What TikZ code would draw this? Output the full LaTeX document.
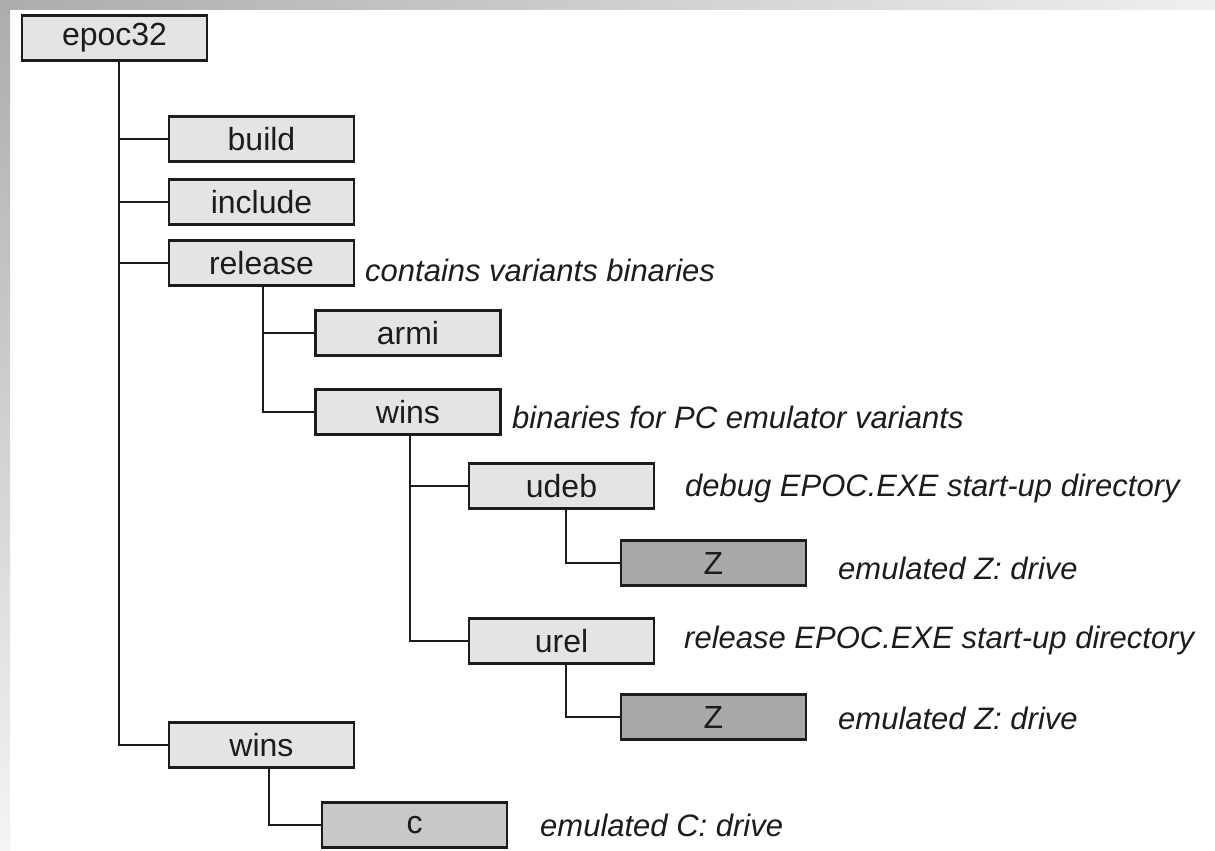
\documentclass[tikz,border=0pt]{standalone}
\usepackage{xcolor}
\usepackage{fontspec}
\setmainfont{Liberation Sans}
\definecolor{boxlight}{HTML}{E4E4E4}
\definecolor{boxdark}{HTML}{A8A8A8}
\definecolor{boxmid}{HTML}{C8C8C8}
\definecolor{inkgray}{HTML}{1C1C1C}
\begin{document}
\begin{tikzpicture}[x=1pt, y=-1pt,
		dirbox/.style={draw=inkgray, line width=2.2pt, fill=boxlight, minimum width=185pt, minimum height=45pt, inner sep=0pt, text=inkgray, font=\fontsize{32}{34}\selectfont},
		drivebox/.style={dirbox, fill=boxdark},
		drivebox c/.style={dirbox, fill=boxmid},
		remark/.style={anchor=west, inner sep=0pt, text=inkgray, font=\fontsize{31}{33}\selectfont\itshape},
		branch/.style={draw=inkgray, line width=2pt}]
			\useasboundingbox (0,0) rectangle (1215,851);
			\fill [white] (0,0) rectangle (1215,851);
			\shade [left color=gray!65, right color=gray!12] (0,0) rectangle (1215,10);
			\shade [top color=gray!65, bottom color=gray!8] (0,0) rectangle (10,851);
			% tree of directories
			\node [dirbox] (epoc) at (114.5,38) {epoc32};
			\node [dirbox] (build) at (261.5,139) {build};
			\node [dirbox] (include) at (261.5,202) {include};
			\node [dirbox] (release) at (261.5,263) {release};
			\node [dirbox] (armi) at (408,333) {armi};
			\node [dirbox] (relwins) at (408,412) {wins};
			\node [dirbox] (udeb) at (561.5,486) {udeb};
			\node [drivebox] (udebz) at (713.5,563) {Z};
			\node [dirbox] (urel) at (561.5,641) {urel};
			\node [drivebox] (urelz) at (713.5,717) {Z};
			\node [dirbox] (wins) at (261.5,745) {wins};
			\node [drivebox c] (drivec) at (414.5,825) {c};
			% connectors
			\draw [branch] ([xshift=4.5pt]epoc.south) |- (build.west);
			\draw [branch] ([xshift=4.5pt]epoc.south) |- (include.west);
			\draw [branch] ([xshift=4.5pt]epoc.south) |- (release.west);
			\draw [branch] ([xshift=4.5pt]epoc.south) |- (wins.west);
			\draw [branch] ([xshift=1.5pt]release.south) |- (armi.west);
			\draw [branch] ([xshift=1.5pt]release.south) |- (relwins.west);
			\draw [branch] ([xshift=2pt]relwins.south) |- (udeb.west);
			\draw [branch] ([xshift=2pt]relwins.south) |- (urel.west);
			\draw [branch] ([xshift=4.5pt]udeb.south) |- (udebz.west);
			\draw [branch] ([xshift=4.5pt]urel.south) |- (urelz.west);
			\draw [branch] ([xshift=7pt]wins.south) |- (drivec.west);
			% remarks
			\node [remark] (r1) at (365,270) {contains variants binaries};
			\node [remark] (r2) at (512,417) {binaries for PC emulator variants};
			\node [remark] (r3) at (685,488) {debug EPOC.EXE start-up directory};
			\node [remark] (r4) at (838,568) {emulated Z: drive};
			\node [remark] (r5) at (684,640) {release EPOC.EXE start-up directory};
			\node [remark] (r6) at (838,718) {emulated Z: drive};
			\node [remark] (r7) at (540,825) {emulated C: drive};
\end{tikzpicture}
\end{document}
